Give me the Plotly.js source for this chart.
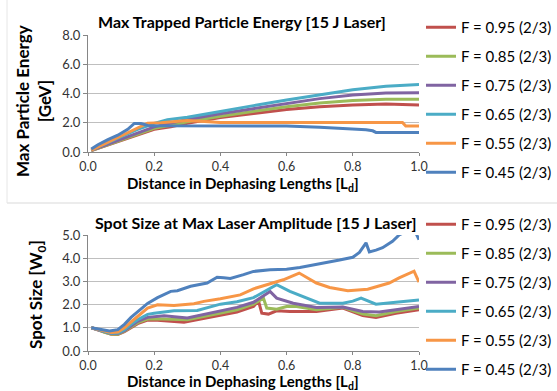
<!DOCTYPE html>
<html>
<head>
<meta charset="utf-8">
<script src="https://cdn.plot.ly/plotly-3.0.1.min.js"></script>
<style>html,body{margin:0;padding:0;background:#fff;}#chart{width:557px;height:391px;}</style>
</head>
<body>
<div id="chart"></div>
<script>
// ---------- Data ----------
const seriesNames = ["F = 0.95 (2/3)", "F = 0.85 (2/3)", "F = 0.75 (2/3)", "F = 0.65 (2/3)", "F = 0.55 (2/3)", "F = 0.45 (2/3)"];
const seriesColors = ["#C0504D", "#9BBB59", "#8064A2", "#4BACC6", "#F79646", "#4F81BD"];

// Top chart: Max Trapped Particle Energy [GeV]
const xEnergyCommon = [0.01,0.05,0.1,0.15,0.2,0.25,0.3,0.4,0.5,0.6,0.7,0.8,0.9,1.0];
const energyF095 = [0.1,0.4,0.8,1.18,1.55,1.72,1.96,2.35,2.63,2.9,3.1,3.22,3.28,3.22];
const energyF085 = [0.1,0.42,0.82,1.22,1.62,1.82,2.07,2.45,2.8,3.1,3.35,3.52,3.6,3.6];
const energyF075 = [0.12,0.45,0.85,1.3,1.72,1.98,2.22,2.62,2.96,3.3,3.65,3.9,4.03,4.05];
const xEnergyF065 = [0.01,0.05,0.1,0.15,0.2,0.24,0.3,0.4,0.5,0.6,0.7,0.8,0.9,1.0];
const energyF065 = [0.15,0.55,1.0,1.55,1.95,2.2,2.38,2.8,3.17,3.55,3.92,4.25,4.5,4.62];
const xEnergyF055 = [0.01,0.04,0.08,0.12,0.15,0.18,0.22,0.26,0.3,0.34,0.4,0.5,0.6,0.7,0.8,0.9,0.95,0.96,1.0];
const energyF055 = [0.12,0.45,0.85,1.3,1.65,1.97,2.0,2.05,2.15,2.1,2.02,2.02,2.02,2.02,2.02,2.02,2.02,1.77,1.77];
const xEnergyF045 = [0.01,0.03,0.06,0.09,0.12,0.14,0.16,0.18,0.2,0.3,0.4,0.5,0.6,0.7,0.75,0.8,0.84,0.86,0.87,0.9,1.0];
const energyF045 = [0.2,0.5,0.85,1.15,1.55,1.95,1.95,1.82,1.8,1.8,1.8,1.8,1.78,1.7,1.65,1.6,1.52,1.45,1.34,1.34,1.34];

// Bottom chart: Spot Size at Max Laser Amplitude [W0]
const xSpotF095 = [0.01,0.03,0.05,0.07,0.09,0.11,0.13,0.15,0.18,0.2,0.29,0.4,0.45,0.5,0.515,0.525,0.545,0.57,0.61,0.69,0.77,0.83,0.87,0.93,1.0];
const spotF095 = [1.0,0.91,0.79,0.72,0.71,0.83,1.0,1.18,1.33,1.34,1.24,1.53,1.68,1.92,2.16,1.63,1.59,1.73,1.7,1.7,1.85,1.53,1.45,1.63,1.78];
const xSpotF085 = [0.01,0.03,0.05,0.07,0.09,0.11,0.13,0.15,0.18,0.2,0.3,0.4,0.45,0.5,0.53,0.54,0.57,0.6,0.63,0.69,0.77,0.83,0.87,0.93,1.0];
const spotF085 = [1.0,0.92,0.8,0.73,0.72,0.85,1.03,1.22,1.38,1.39,1.35,1.63,1.78,2.02,2.28,1.85,1.8,1.92,1.92,1.78,1.88,1.59,1.52,1.7,1.85];
const xSpotF075 = [0.01,0.03,0.05,0.07,0.09,0.11,0.13,0.15,0.18,0.2,0.23,0.3,0.4,0.45,0.5,0.55,0.57,0.62,0.69,0.77,0.83,0.88,0.93,1.0];
const spotF075 = [1.0,0.92,0.82,0.75,0.75,0.88,1.08,1.28,1.45,1.49,1.52,1.42,1.73,1.88,2.1,2.57,2.28,2.06,1.88,1.9,1.7,1.68,1.78,1.92];
const xSpotF065 = [0.01,0.03,0.05,0.07,0.09,0.11,0.13,0.15,0.18,0.2,0.26,0.33,0.4,0.45,0.5,0.54,0.57,0.61,0.65,0.7,0.77,0.8,0.825,0.87,0.93,1.0];
const spotF065 = [1.0,0.93,0.83,0.77,0.78,0.92,1.15,1.35,1.58,1.63,1.73,1.75,2.02,2.12,2.3,2.6,2.86,2.57,2.35,2.06,2.06,2.15,2.28,2.02,2.1,2.2];
const xSpotF055 = [0.01,0.03,0.05,0.07,0.09,0.11,0.13,0.15,0.18,0.21,0.26,0.32,0.35,0.4,0.46,0.5,0.55,0.59,0.638,0.69,0.73,0.785,0.845,0.91,0.94,0.985,1.0];
const spotF055 = [1.0,0.93,0.84,0.8,0.82,1.0,1.25,1.5,1.85,1.99,1.96,2.04,2.14,2.25,2.42,2.68,2.9,3.07,3.36,2.93,2.74,2.6,2.66,2.93,3.15,3.44,2.97];
const xSpotF045 = [0.01,0.03,0.05,0.065,0.09,0.11,0.13,0.15,0.18,0.21,0.25,0.27,0.31,0.36,0.39,0.41,0.43,0.47,0.5,0.55,0.6,0.64,0.68,0.72,0.76,0.8,0.82,0.84,0.85,0.87,0.89,0.92,0.94,0.96,0.99,1.0];
const spotF045 = [1.0,0.95,0.88,0.86,0.92,1.15,1.45,1.7,2.05,2.3,2.57,2.6,2.79,2.93,3.18,3.16,3.13,3.29,3.43,3.5,3.52,3.6,3.7,3.8,3.92,4.04,4.25,4.66,4.27,4.35,4.45,4.73,5.0,5.15,5.1,4.8];

const energyX = [xEnergyCommon, xEnergyCommon, xEnergyCommon, xEnergyF065, xEnergyF055, xEnergyF045];
const energyY = [energyF095, energyF085, energyF075, energyF065, energyF055, energyF045];
const spotX = [xSpotF095, xSpotF085, xSpotF075, xSpotF065, xSpotF055, xSpotF045];
const spotY = [spotF095, spotF085, spotF075, spotF065, spotF055, spotF045];

// ---------- Build ----------
const FONT = "Lato, 'Open Sans', sans-serif";
const W = 557, H = 391;
const traces = [];
for (let i = 0; i < seriesNames.length; i++) {
  traces.push({
    x: energyX[i], y: energyY[i], type: "scatter", mode: "lines",
    name: seriesNames[i], line: {color: seriesColors[i], width: 3},
    xaxis: "x", yaxis: "y", legend: "legend", legendgroup: "a" + i
  });
}
for (let i = 0; i < seriesNames.length; i++) {
  traces.push({
    x: spotX[i], y: spotY[i], type: "scatter", mode: "lines",
    name: seriesNames[i], line: {color: seriesColors[i], width: 3},
    xaxis: "x2", yaxis: "y2", legend: "legend2", legendgroup: "b" + i
  });
}

const px = v => v / W;
const py = v => 1 - v / H;

const xAxisBase = {
  range: [0, 1], dtick: 0.2, tick0: 0, tickformat: ".1f",
  showgrid: false, zeroline: false, showline: true, linecolor: "#868686", linewidth: 1,
  ticks: "outside", ticklen: 3, tickcolor: "#868686",
  tickfont: {family: FONT, size: 12.5, color: "#333"},
  domain: [px(88), px(419)], fixedrange: true, automargin: false
};
const yAxisBase = {
  showgrid: true, gridcolor: "#BFBFBF", gridwidth: 1, zeroline: false,
  showline: true, linecolor: "#868686", linewidth: 1,
  ticks: "outside", ticklen: 4, tickcolor: "#868686", tickformat: ".1f",
  tickfont: {family: FONT, size: 13, color: "#333"}, fixedrange: true, automargin: false
};

const legendBase = {
  font: {family: FONT, size: 15, color: "#000"},
  bgcolor: "rgba(0,0,0,0)", borderwidth: 0,
  traceorder: "grouped", tracegroupgap: 6.5, itemwidth: 30,
  xanchor: "left", yanchor: "top", x: px(421)
};

const layout = {
  width: W, height: H,
  margin: {l: 0, r: 0, t: 0, b: 0},
  paper_bgcolor: "#fff", plot_bgcolor: "rgba(0,0,0,0)",
  showlegend: true,
  xaxis: Object.assign({}, xAxisBase, {anchor: "y"}),
  yaxis: Object.assign({}, yAxisBase, {range: [0, 8], dtick: 2, domain: [py(152), py(35)], anchor: "x"}),
  xaxis2: Object.assign({}, xAxisBase, {anchor: "y2"}),
  yaxis2: Object.assign({}, yAxisBase, {range: [0, 5], dtick: 1, domain: [py(351), py(235)], anchor: "x2"}),
  legend: Object.assign({}, legendBase, {y: py(11)}),
  legend2: Object.assign({}, legendBase, {y: py(208)}),
  annotations: [
    {text: "<b>Max Trapped Particle Energy [15 J Laser]</b>", xref: "paper", yref: "paper",
     x: px(242), y: py(22), xanchor: "center", yanchor: "middle", showarrow: false,
     font: {family: FONT, size: 16, color: "#000"}},
    {text: "<b>Spot Size at Max Laser Amplitude [15 J Laser]</b>", xref: "paper", yref: "paper",
     x: px(256), y: py(222), xanchor: "center", yanchor: "middle", showarrow: false,
     font: {family: FONT, size: 16, color: "#000"}},
    {text: "<b>Max Particle Energy<br>[GeV]</b>", xref: "paper", yref: "paper",
     x: px(33), y: py(101), xanchor: "center", yanchor: "middle", showarrow: false, textangle: -90,
     font: {family: FONT, size: 17, color: "#000"}},
    {text: "<b>Spot Size [W<sub>0</sub>]</b>", xref: "paper", yref: "paper",
     x: px(37), y: py(295), xanchor: "center", yanchor: "middle", showarrow: false, textangle: -90,
     font: {family: FONT, size: 17, color: "#000"}},
    {text: "<b>Distance in Dephasing Lengths [L<sub>d</sub>]</b>", xref: "paper", yref: "paper",
     x: px(243), y: py(183.5), xanchor: "center", yanchor: "middle", showarrow: false,
     font: {family: FONT, size: 15, color: "#000"}},
    {text: "<b>Distance in Dephasing Lengths [L<sub>d</sub>]</b>", xref: "paper", yref: "paper",
     x: px(243), y: py(382), xanchor: "center", yanchor: "middle", showarrow: false,
     font: {family: FONT, size: 15, color: "#000"}}
  ],
  shapes: [
    {type: "line", xref: "paper", yref: "paper", x0: px(7), x1: 1, y0: py(203), y1: py(203),
     line: {color: "#D9D9D9", width: 1}},
    {type: "line", xref: "paper", yref: "paper", x0: px(7), x1: px(7), y0: py(0), y1: py(203),
     line: {color: "#E6E6E6", width: 1}}
  ]
};

Plotly.newPlot("chart", traces, layout, {staticPlot: true, displayModeBar: false});
</script>
</body>
</html>
